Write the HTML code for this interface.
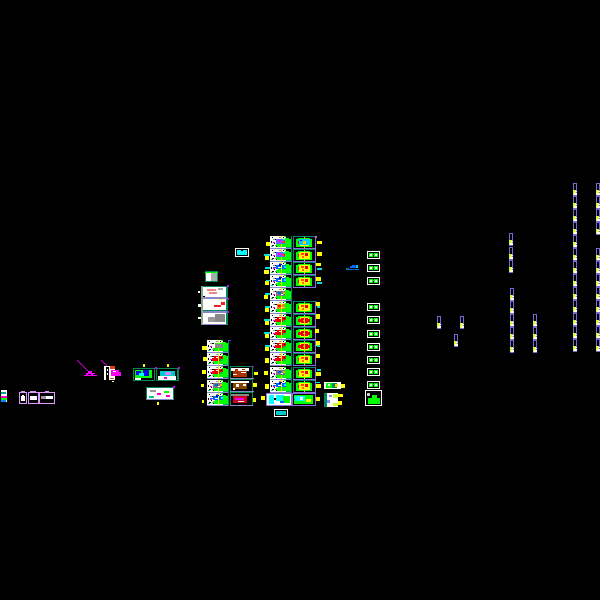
<!DOCTYPE html>
<html><head><meta charset="utf-8"><style>
html,body{margin:0;padding:0;background:#000;width:600px;height:600px;overflow:hidden}
svg{display:block}
</style></head><body>
<svg width="600" height="600" viewBox="0 0 600 600" shape-rendering="crispEdges" xmlns="http://www.w3.org/2000/svg">
<defs>
<g id="a"><rect width="22" height="13" fill="#000"/><rect width="8" height="12" fill="#fff"/><rect x="8" width="8" height="3" fill="#fff"/><rect x="15" y="2" width="6" height="9" fill="#0f0"/><rect x="6" y="8" width="10" height="3" fill="#0f0"/><rect x="8" y="3" width="7" height="5" fill="#0f0"/>
<g fill="#000"><rect x="2" y="1" width="1" height="1"/><rect x="5" y="3" width="2" height="1"/><rect x="1" y="5" width="1" height="2"/><rect x="4" y="7" width="1" height="1"/><rect x="6" y="10" width="1" height="1"/><rect x="2" y="9" width="2" height="1"/><rect x="19" y="2" width="2" height="1"/><rect x="13" y="1" width="1" height="1"/></g>
<g fill="#999"><rect x="3" y="3" width="2" height="1"/><rect x="9" y="1" width="3" height="1"/><rect x="5" y="9" width="1" height="1"/></g>
<rect x="3" y="6" width="2" height="1" fill="#f0f"/><rect x="1" y="10" width="2" height="1" fill="#0c6"/><rect x="14" y="0" width="2" height="1" fill="#0f0"/><rect x="8" y="11" width="8" height="1" fill="#fff"/><rect x="16" y="11" width="5" height="1" fill="#0a6"/>
<rect x="11" width="1" height="12" fill="#ee0"/><rect y="12" width="22" height="1" fill="#88c"/><rect x="21" width="1" height="13" fill="#086"/></g>
<g id="ar"><rect x="7" y="3" width="9" height="5" fill="#e00"/><rect x="5" y="5" width="2" height="3" fill="#f00"/><rect x="13" y="6" width="3" height="2" fill="#0c3"/><rect x="9" y="4" width="2" height="1" fill="#fff"/><rect x="11" y="3" width="1" height="5" fill="#ff0"/><rect x="14" y="4" width="1" height="1" fill="#000"/></g>
<g id="ab"><rect x="6" y="3" width="10" height="4" fill="#06f"/><rect x="9" y="2" width="3" height="2" fill="#00c"/><rect x="8" y="5" width="4" height="1" fill="#fff"/><rect x="14" y="4" width="2" height="2" fill="#0ff"/><rect x="3" y="5" width="3" height="1" fill="#06f"/><rect x="11" y="3" width="1" height="4" fill="#ff0"/></g>
<g id="ag"><rect x="6" y="3" width="9" height="5" fill="#778"/><rect x="8" y="4" width="3" height="2" fill="#06c"/><rect x="13" y="4" width="2" height="2" fill="#fa0"/><rect x="11" y="6" width="2" height="1" fill="#fff"/></g>
<g id="ao"><rect x="7" y="3" width="8" height="5" fill="#e80"/><rect x="8" y="4" width="3" height="2" fill="#f00"/><rect x="12" y="6" width="3" height="1" fill="#fc6"/><rect x="11" y="3" width="1" height="5" fill="#ff0"/></g>
<g id="am"><rect x="6" y="3" width="9" height="5" fill="#66f"/><rect x="8" y="4" width="3" height="2" fill="#f0f"/><rect x="12" y="5" width="3" height="2" fill="#f33"/><rect x="13" y="3" width="2" height="1" fill="#0ff"/></g>
<g id="b"><rect width="23" height="13" fill="#000"/><rect y="0" width="1" height="12" fill="#086"/><rect y="0" width="22" height="1" fill="#086"/><rect x="3" y="2" width="16" height="9" fill="#0f0"/><rect x="3" y="2" width="2" height="1" fill="#000"/><rect x="17" y="2" width="2" height="1" fill="#000"/><rect x="7" y="3" width="9" height="7" fill="#ff0"/><rect x="8" y="4" width="7" height="5" fill="#e00"/><rect x="5" y="5" width="3" height="3" fill="#e00"/><rect x="15" y="5" width="2" height="3" fill="#e00"/><rect x="10" y="6" width="1" height="1" fill="#fa0"/><rect x="11" y="1" width="1" height="11" fill="#dd0"/><rect x="22" width="1" height="13" fill="#8a6fe0"/><rect y="12" width="23" height="1" fill="#8a6fe0"/></g>
<g id="by"><rect x="6" y="3" width="11" height="7" fill="#ff0"/><rect x="8" y="4" width="3" height="2" fill="#f40"/><rect x="12" y="4" width="3" height="3" fill="#e00"/><rect x="9" y="7" width="2" height="2" fill="#f60"/><rect x="13" y="8" width="2" height="1" fill="#fc6"/></g>
<g id="c"><rect width="13" height="8" fill="#fff"/><rect x="1" y="1" width="11" height="6" fill="#000"/><rect x="2" y="2" width="4" height="4" fill="#0f0"/><rect x="7" y="2" width="4" height="4" fill="#0f0"/><rect x="3" y="3" width="2" height="2" fill="#fff"/><rect x="8" y="3" width="2" height="2" fill="#fff"/><rect x="5" y="3" width="3" height="1" fill="#0f0"/></g>
<g id="s"><rect width="4" height="13" fill="#7b68d8"/><rect x="1" y="1" width="2" height="6" fill="#000"/><rect y="7" width="4" height="5" fill="#cf3"/><rect x="2" y="8" width="2" height="1" fill="#fff"/><rect x="1" y="10" width="3" height="2" fill="#fff"/><rect x="3" y="7" width="1" height="1" fill="#7b68d8"/><rect x="3" y="9" width="1" height="1" fill="#7b68d8"/></g>
</defs>
<rect width="600" height="600" fill="#000"/>

<!-- center column A -->
<use href="#a" x="270" y="236"/><use href="#am" x="270" y="236"/>
<use href="#a" x="270" y="249"/><use href="#am" x="270" y="249"/>
<use href="#a" x="270" y="262"/><use href="#ab" x="270" y="262"/>
<use href="#a" x="270" y="275"/><use href="#ab" x="270" y="275"/>
<use href="#a" x="270" y="288"/><use href="#ag" x="270" y="288"/>
<use href="#a" x="270" y="301"/><use href="#ao" x="270" y="301"/>
<use href="#a" x="270" y="314"/><use href="#ar" x="270" y="314"/>
<use href="#a" x="270" y="327"/><use href="#ar" x="270" y="327"/>
<use href="#a" x="270" y="340"/><use href="#ar" x="270" y="340"/>
<use href="#a" x="270" y="353"/><use href="#ar" x="270" y="353"/>
<use href="#a" x="270" y="367"/><use href="#ag" x="270" y="367"/>
<use href="#a" x="270" y="380"/><use href="#ab" x="270" y="380"/>
<rect x="266" y="393" width="26" height="13" fill="#8a6fe0"/><rect x="267" y="394" width="24" height="11" fill="#fff"/><rect x="269" y="395" width="5" height="9" fill="#0ff"/><rect x="276" y="395" width="8" height="6" fill="#0ff"/><rect x="283" y="396" width="7" height="7" fill="#0f0"/><rect x="280" y="401" width="4" height="2" fill="#06f"/><rect x="274" y="398" width="2" height="2" fill="#000"/>

<!-- center column B -->
<use href="#b" x="293" y="236"/><rect x="299" y="239" width="11" height="6" fill="#0cf"/><rect x="303" y="241" width="3" height="3" fill="#fc0"/><rect x="300" y="240" width="2" height="1" fill="#00f"/>
<use href="#b" x="293" y="249"/><use href="#by" x="293" y="249"/>
<use href="#b" x="293" y="262"/><use href="#by" x="293" y="262"/>
<use href="#b" x="293" y="275"/><use href="#by" x="293" y="275"/>
<use href="#b" x="293" y="301"/><use href="#by" x="293" y="301"/>
<use href="#b" x="293" y="314"/>
<use href="#b" x="293" y="327"/>
<use href="#b" x="293" y="340"/>
<use href="#b" x="293" y="353"/><use href="#by" x="293" y="353"/>
<use href="#b" x="293" y="367"/><use href="#by" x="293" y="367"/>
<use href="#b" x="293" y="380"/><use href="#by" x="293" y="380"/>
<rect x="292" y="393" width="24" height="13" fill="#8a6fe0"/><rect x="293" y="394" width="22" height="11" fill="#000"/><rect x="294" y="395" width="19" height="9" fill="#0f0"/><rect x="295" y="396" width="10" height="5" fill="#0ff"/><rect x="300" y="397" width="3" height="3" fill="#fff"/><rect x="306" y="399" width="5" height="3" fill="#ff0"/>
<rect x="315" y="236" width="2" height="2" fill="#e060e0"/>

<!-- left group col 1 -->
<use href="#a" x="207" y="340"/><rect x="215" y="344" width="8" height="4" fill="#888"/>
<use href="#a" x="207" y="353"/><use href="#ar" x="207" y="353"/>
<use href="#a" x="207" y="366"/><use href="#ar" x="207" y="366"/>
<use href="#a" x="207" y="380"/><use href="#ag" x="207" y="380"/>
<use href="#a" x="207" y="393"/><use href="#ab" x="207" y="393"/>
<rect x="229" y="340" width="2" height="1" fill="#c0f"/>
<!-- col 2 -->
<rect x="230" y="366" width="23" height="40" fill="#085"/>
<rect x="231" y="367" width="21" height="11" fill="#000"/><rect x="231" y="380" width="21" height="11" fill="#000"/><rect x="231" y="393" width="21" height="12" fill="#000"/>
<rect x="231" y="368" width="18" height="3" fill="#fff"/><rect x="233" y="371" width="14" height="6" fill="#a30"/><rect x="235" y="369" width="3" height="2" fill="#a30"/><rect x="241" y="372" width="5" height="1" fill="#fff"/><rect x="233" y="374" width="4" height="1" fill="#fff"/><rect x="242" y="369" width="3" height="1" fill="#a30"/>
<rect x="231" y="381" width="18" height="2" fill="#fff"/><rect x="233" y="383" width="14" height="6" fill="#840"/><rect x="236" y="384" width="3" height="3" fill="#fff"/><rect x="243" y="384" width="3" height="2" fill="#fff"/><rect x="233" y="388" width="2" height="2" fill="#fff"/>
<rect x="231" y="394" width="18" height="2" fill="#888"/><rect x="233" y="396" width="14" height="7" fill="#c02"/><rect x="235" y="398" width="9" height="2" fill="#e0e"/><rect x="238" y="401" width="6" height="1" fill="#fff"/>
<rect x="230" y="378" width="24" height="1" fill="#88c"/><rect x="230" y="391" width="24" height="1" fill="#88c"/><rect x="230" y="405" width="23" height="1" fill="#88c"/>
<rect x="252" y="366" width="2" height="1" fill="#c0f"/>

<!-- upper left group -->
<rect x="201" y="286" width="27" height="39" fill="#085"/>
<rect x="203" y="287" width="23" height="10" fill="#fff"/><rect x="203" y="299" width="23" height="11" fill="#fff"/><rect x="203" y="313" width="23" height="11" fill="#fff"/>
<rect x="207" y="289" width="9" height="2" fill="#e88"/><rect x="209" y="292" width="8" height="2" fill="#e88"/><rect x="218" y="288" width="5" height="2" fill="#aaa"/>
<rect x="214" y="305" width="7" height="2" fill="#e22"/><rect x="221" y="302" width="4" height="3" fill="#e22"/><rect x="219" y="299" width="3" height="1" fill="#ff0"/>
<rect x="208" y="317" width="9" height="5" fill="#999"/><rect x="215" y="314" width="10" height="8" fill="#888"/><rect x="203" y="296" width="2" height="1" fill="#000"/>
<rect x="202" y="297" width="25" height="2" fill="#88c"/><rect x="202" y="311" width="25" height="2" fill="#88c"/><rect x="202" y="324" width="25" height="1" fill="#88c"/>
<rect x="201" y="286" width="2" height="39" fill="#8a8"/>
<rect x="227" y="285" width="2" height="2" fill="#c0f"/><rect x="227" y="298" width="2" height="2" fill="#c0f"/><rect x="227" y="311" width="2" height="2" fill="#c0f"/>
<rect x="198" y="291" width="2" height="2" fill="#fff"/><rect x="198" y="304" width="3" height="3" fill="#fff"/><rect x="198" y="317" width="3" height="2" fill="#fff"/>

<!-- small block -->
<rect x="205" y="271" width="13" height="11" fill="#085"/><rect x="206" y="273" width="5" height="8" fill="#fff"/><rect x="211" y="273" width="6" height="8" fill="#aaa"/><rect x="205" y="272" width="13" height="1" fill="#0f0"/>
<!-- cyan box -->
<rect x="235" y="248" width="14" height="9" fill="#fff"/><rect x="236" y="249" width="12" height="7" fill="#000"/><rect x="237" y="250" width="10" height="5" fill="#0ff"/><rect x="241" y="250" width="2" height="1" fill="#000"/>
<rect x="274" y="409" width="14" height="8" fill="#fff"/><rect x="275" y="410" width="12" height="6" fill="#000"/><rect x="276" y="411" width="10" height="4" fill="#0cc"/>
<!-- blue thing -->
<rect x="350" y="266" width="7" height="2" fill="#06f"/><rect x="352" y="265" width="3" height="1" fill="#06f"/><rect x="356" y="265" width="2" height="3" fill="#0cc"/><rect x="346" y="268" width="3" height="1" fill="#084"/><rect x="346" y="269" width="13" height="1" fill="#06c"/>

<!-- c stack -->
<use href="#c" x="367" y="251"/><use href="#c" x="367" y="264"/><use href="#c" x="367" y="277"/><use href="#c" x="367" y="303"/><use href="#c" x="367" y="316"/><use href="#c" x="367" y="330"/><use href="#c" x="367" y="343"/><use href="#c" x="367" y="356"/><use href="#c" x="367" y="368"/><use href="#c" x="367" y="381"/>
<rect x="365" y="390" width="17" height="16" fill="#fff"/><rect x="366" y="391" width="15" height="14" fill="#000"/><rect x="368" y="398" width="12" height="6" fill="#0f0"/><rect x="372" y="395" width="5" height="3" fill="#0f0"/><rect x="367" y="393" width="3" height="3" fill="#ccc"/>

<!-- small cells right -->
<rect x="324" y="382" width="17" height="7" fill="#fff"/><rect x="326" y="383" width="7" height="5" fill="#0f0"/><rect x="332" y="383" width="5" height="5" fill="#085"/><rect x="335" y="384" width="3" height="3" fill="#fd0"/><rect x="328" y="384" width="2" height="2" fill="#fff"/>
<rect x="324" y="393" width="14" height="14" fill="#fff"/><rect x="324" y="393" width="3" height="14" fill="#085"/><rect x="333" y="394" width="5" height="4" fill="#cf3"/><rect x="327" y="400" width="3" height="3" fill="#88f"/><rect x="333" y="403" width="5" height="3" fill="#cf3"/><rect x="329" y="395" width="3" height="2" fill="#88f"/>
<rect x="341" y="384" width="4" height="4" fill="#ff0"/><rect x="338" y="394" width="5" height="3" fill="#ff0"/><rect x="338" y="401" width="4" height="4" fill="#ff0"/>

<!-- yellow/cyan labels -->
<g fill="#ff0">
<rect x="266" y="242" width="4" height="4"/><rect x="265" y="256" width="4" height="4"/><rect x="264" y="270" width="5" height="4"/><rect x="265" y="281" width="4" height="4"/><rect x="264" y="295" width="4" height="4"/><rect x="265" y="308" width="4" height="4"/><rect x="265" y="321" width="4" height="4"/><rect x="265" y="334" width="4" height="4"/><rect x="265" y="347" width="4" height="4"/><rect x="265" y="358" width="4" height="5"/><rect x="264" y="371" width="4" height="4"/><rect x="265" y="384" width="4" height="5"/><rect x="261" y="396" width="4" height="4"/>
<rect x="317" y="241" width="5" height="3"/><rect x="317" y="252" width="5" height="4"/><rect x="316" y="263" width="5" height="3"/><rect x="316" y="277" width="5" height="4"/><rect x="316" y="302" width="4" height="4"/><rect x="316" y="314" width="4" height="5"/><rect x="315" y="329" width="4" height="4"/><rect x="316" y="341" width="4" height="5"/><rect x="316" y="354" width="4" height="4"/><rect x="316" y="372" width="5" height="4"/><rect x="316" y="384" width="5" height="4"/><rect x="316" y="397" width="4" height="4"/>
<rect x="202" y="346" width="5" height="4"/><rect x="203" y="357" width="4" height="4"/><rect x="202" y="370" width="4" height="4"/><rect x="201" y="384" width="3" height="3"/><rect x="202" y="400" width="2" height="3"/>
<rect x="254" y="372" width="4" height="3"/><rect x="253" y="383" width="4" height="4"/><rect x="253" y="398" width="3" height="4"/>
<rect x="143" y="364" width="2" height="3"/><rect x="167" y="364" width="2" height="3"/><rect x="157" y="402" width="2" height="3"/>
</g>
<g fill="#0dd">
<rect x="264" y="254" width="6" height="2"/><rect x="265" y="267" width="5" height="2"/><rect x="266" y="280" width="4" height="1"/><rect x="265" y="293" width="5" height="2"/><rect x="265" y="306" width="5" height="2"/><rect x="264" y="319" width="6" height="2"/><rect x="264" y="332" width="6" height="2"/><rect x="265" y="345" width="5" height="2"/>
<rect x="317" y="268" width="5" height="2"/><rect x="317" y="282" width="5" height="2"/><rect x="317" y="306" width="3" height="2"/><rect x="317" y="369" width="4" height="2"/><rect x="316" y="382" width="4" height="1"/><rect x="317" y="345" width="3" height="2"/>
</g>

<!-- far left -->
<rect x="1" y="390" width="6" height="12" fill="#fff"/><rect x="1" y="392" width="5" height="2" fill="#0a8"/><rect x="1" y="396" width="6" height="2" fill="#f0c"/><rect x="1" y="398" width="6" height="2" fill="#0f0"/><rect x="1" y="400" width="5" height="2" fill="#08f"/>
<g fill="#d9f"><rect x="19" y="392" width="8" height="12"/><rect x="28" y="392" width="11" height="12"/><rect x="39" y="392" width="16" height="12"/><rect x="21" y="391" width="4" height="1"/><rect x="30" y="391" width="6" height="1"/><rect x="45" y="391" width="4" height="1"/></g>
<rect x="20" y="393" width="6" height="10" fill="#000"/><rect x="29" y="393" width="9" height="10" fill="#000"/><rect x="40" y="393" width="14" height="10" fill="#000"/>
<rect x="21" y="396" width="4" height="5" fill="#fff"/><rect x="22" y="395" width="2" height="1" fill="#fff"/><rect x="30" y="396" width="7" height="4" fill="#fff"/><rect x="41" y="396" width="12" height="3" fill="#fff"/><rect x="41" y="396" width="5" height="3" fill="#999"/>

<!-- magenta -->
<line x1="77" y1="360" x2="88" y2="371" stroke="#c0c" stroke-width="1" shape-rendering="auto"/>
<line x1="101" y1="360" x2="109" y2="368" stroke="#c0c" stroke-width="1" shape-rendering="auto"/>
<g fill="#f0f"><rect x="88" y="371" width="4" height="2"/><rect x="86" y="373" width="9" height="1"/><rect x="84" y="375" width="13" height="1"/><rect x="86" y="373" width="2" height="3"/><rect x="91" y="373" width="2" height="3"/></g>
<rect x="104" y="366" width="11" height="14" fill="#fff"/><rect x="106" y="367" width="3" height="13" fill="#000"/><rect x="107" y="369" width="1" height="2" fill="#fff"/><rect x="107" y="373" width="1" height="2" fill="#fff"/><rect x="110" y="366" width="5" height="3" fill="#d40"/><rect x="110" y="378" width="4" height="1" fill="#d40"/><rect x="111" y="370" width="8" height="6" fill="#f0f"/><rect x="115" y="372" width="6" height="4" fill="#f0f"/><rect x="113" y="371" width="3" height="1" fill="#fff"/><rect x="112" y="381" width="2" height="1" fill="#fff"/>

<!-- mid-left cells -->
<rect x="133" y="368" width="22" height="13" fill="#085"/><rect x="134" y="369" width="20" height="11" fill="#000"/><rect x="135" y="370" width="17" height="8" fill="#0f0"/><rect x="136" y="371" width="5" height="4" fill="#00f"/><rect x="143" y="370" width="6" height="6" fill="#00e"/><rect x="139" y="373" width="5" height="3" fill="#0ff"/><rect x="135" y="378" width="6" height="2" fill="#fff"/>
<rect x="156" y="368" width="23" height="13" fill="#085"/><rect x="157" y="369" width="20" height="11" fill="#000"/><rect x="160" y="371" width="15" height="5" fill="#0cc"/><rect x="165" y="372" width="6" height="3" fill="#c8f"/><rect x="158" y="376" width="18" height="4" fill="#fff"/><rect x="164" y="377" width="3" height="2" fill="#f0c"/><rect x="178" y="367" width="2" height="2" fill="#c0f"/><rect x="155" y="367" width="2" height="2" fill="#c0f"/>
<rect x="146" y="387" width="28" height="13" fill="#085"/><rect x="147" y="388" width="26" height="11" fill="#fff"/><rect x="150" y="390" width="6" height="2" fill="#999"/><rect x="157" y="393" width="4" height="2" fill="#f0c"/><rect x="164" y="391" width="5" height="2" fill="#0f0"/><rect x="149" y="396" width="5" height="2" fill="#0c8"/><rect x="166" y="395" width="4" height="2" fill="#f0c"/><rect x="146" y="399" width="28" height="1" fill="#88c"/><rect x="173" y="386" width="2" height="2" fill="#c0f"/>

<!-- far right bars -->
<use href="#s" x="509" y="233"/><use href="#s" x="509" y="247"/><use href="#s" x="509" y="260"/>
<use href="#s" x="510" y="288"/><use href="#s" x="510" y="301"/><use href="#s" x="510" y="314"/><use href="#s" x="510" y="327"/><use href="#s" x="510" y="340"/>
<use href="#s" x="533" y="314"/><use href="#s" x="533" y="327"/><use href="#s" x="533" y="340"/>
<use href="#s" x="437" y="316"/><use href="#s" x="460" y="316"/><use href="#s" x="454" y="334"/>
<use href="#s" x="573" y="183"/><use href="#s" x="573" y="196"/><use href="#s" x="573" y="209"/><use href="#s" x="573" y="222"/><use href="#s" x="573" y="235"/><use href="#s" x="573" y="248"/><use href="#s" x="573" y="261"/><use href="#s" x="573" y="274"/><use href="#s" x="573" y="287"/><use href="#s" x="573" y="300"/><use href="#s" x="573" y="313"/><use href="#s" x="573" y="326"/><use href="#s" x="573" y="339"/>
<use href="#s" x="596" y="183"/><use href="#s" x="596" y="196"/><use href="#s" x="596" y="209"/><use href="#s" x="596" y="222"/>
<use href="#s" x="596" y="248"/><use href="#s" x="596" y="261"/><use href="#s" x="596" y="274"/><use href="#s" x="596" y="287"/><use href="#s" x="596" y="300"/><use href="#s" x="596" y="313"/><use href="#s" x="596" y="326"/><use href="#s" x="596" y="339"/>
</svg>
</body></html>
